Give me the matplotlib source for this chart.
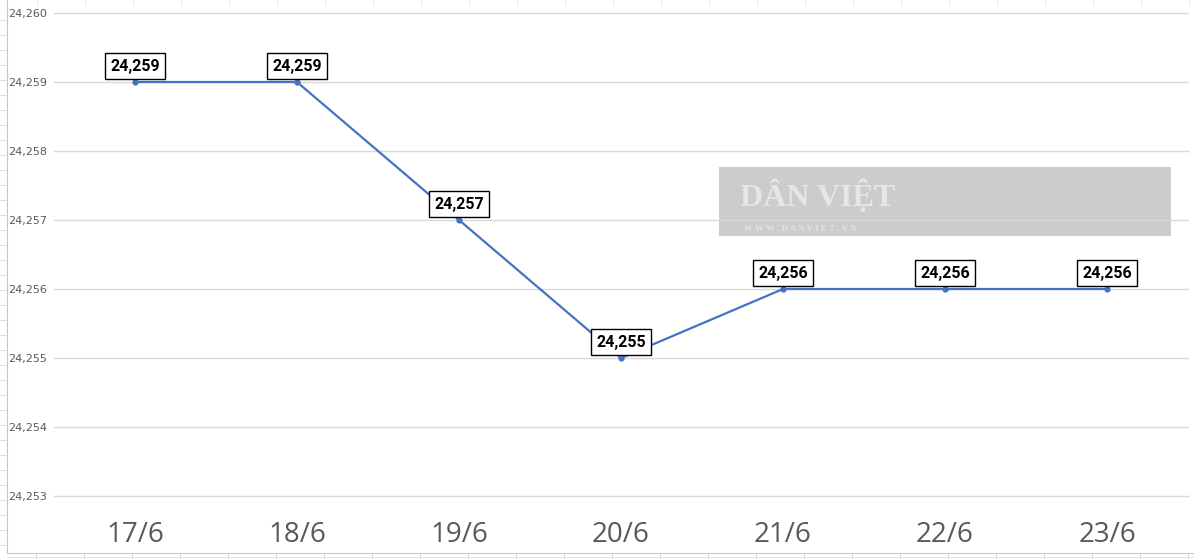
import matplotlib.pyplot as plt
from matplotlib.patches import Rectangle
import matplotlib.ticker as mticker

dates = ["17/6", "18/6", "19/6", "20/6", "21/6", "22/6", "23/6"]
values = [24259, 24259, 24257, 24255, 24256, 24256, 24256]
y_ticks = [24253, 24254, 24255, 24256, 24257, 24258, 24259, 24260]

W, H = 1194, 559
fig = plt.figure(figsize=(W / 100, H / 100), dpi=100)
fig.patch.set_facecolor("white")

# Excel-like sheet artifacts on the left and bottom
bg = fig.add_axes([0, 0, 1, 1], zorder=-5)
bg.set_xlim(0, W)
bg.set_ylim(H, 0)
bg.axis("off")
bg.plot([7, 7], [0, 553], color="#c8c8c8", lw=0.8)
for yy in range(20, 553, 15):
    bg.plot([0, 7], [yy, yy], color="#d8d8d8", lw=0.6)
bg.plot([7, W], [553, 553], color="#c8c8c8", lw=0.8)
bg.plot([7, W], [557, 557], color="#dddddd", lw=0.6)
for xx in range(36, W, 48):
    bg.plot([xx, xx], [553, 559], color="#d0d0d0", lw=0.6)
for xx in range(37, W, 48):
    bg.plot([xx, xx], [0, 5], color="#e0e0e0", lw=0.6)

# watermark
bg.add_patch(Rectangle((719, 167), 452, 69, facecolor="#cccccc", edgecolor="none", zorder=1))
bg.text(740, 196, "DÂN VIỆT", fontsize=23, family="Liberation Serif", fontweight="bold",
        color="#e6e6e6", va="center", ha="left", zorder=2)
bg.text(744, 229, "W W W . D A N V I E T . V N", fontsize=6.5, family="Liberation Serif",
        fontweight="bold", color="#e2e2e2", va="center", ha="left", zorder=2)

# main axes: plot area x 54..1188, y 13..496 (pixels)
left, right, top, bottom = 54, 1188, 13, 496
ax = fig.add_axes([left / W, 1 - bottom / H, (right - left) / W, (bottom - top) / H])
ax.patch.set_alpha(0)
x = list(range(len(dates)))
ax.set_xlim(-0.5, len(dates) - 0.5)
ax.set_ylim(24253, 24260)
ax.set_yticks(y_ticks)
ax.yaxis.set_major_formatter(mticker.FuncFormatter(lambda v, p: f"{int(round(v)):,}"))
for yt in y_ticks:
    ax.axhline(yt, color="#d9d9d9", lw=1.0, zorder=0, clip_on=False)
for s in ax.spines.values():
    s.set_visible(False)
ax.tick_params(axis="y", length=0, labelsize=8, labelcolor="#595959", pad=5)
ax.set_xticks(x)
ax.set_xticklabels(dates)
ax.tick_params(axis="x", length=0, labelsize=20, labelcolor="#595959", pad=18)
for lab in ax.get_xticklabels():
    lab.set_family("Open Sans")

ax.plot(x, values, color="#4472c4", lw=1.6, marker="o", ms=3.5, zorder=3)
for xi, v in zip(x, values):
    ax.annotate(f"{v:,}", (xi, v), xytext=(0, 11.5), textcoords="offset points",
                ha="center", va="center", fontsize=11.5, fontweight="bold", color="black",
                family=["Roboto", "DejaVu Sans"],
                bbox=dict(boxstyle="square,pad=0.32", fc="white", ec="black", lw=1.0),
                zorder=4)

fig.savefig("out.png", dpi=100)
